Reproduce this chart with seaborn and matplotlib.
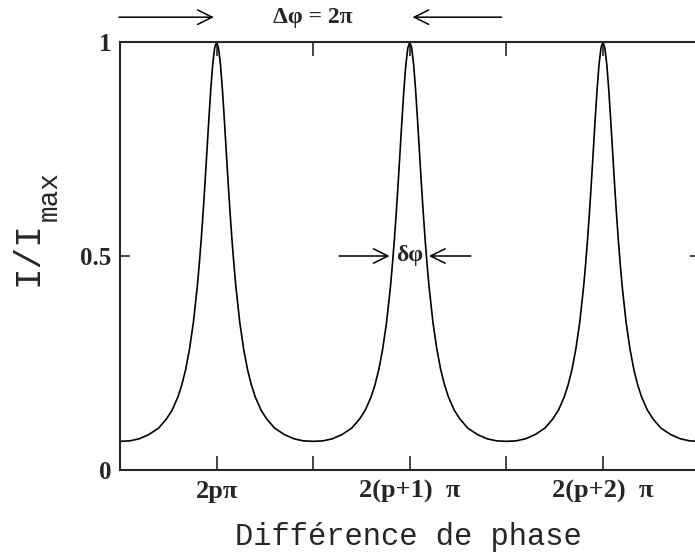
import numpy as np
import matplotlib
matplotlib.use('Agg')
import matplotlib.pyplot as plt
import seaborn as sns

# profil d'un pic : écart au pic en fraction de période, intensité relative
u_half = [0.0, 0.01, 0.02, 0.03, 0.04, 0.05, 0.06, 0.07, 0.08, 0.09, 0.10,
          0.12, 0.14, 0.16, 0.18, 0.20, 0.23, 0.26, 0.30, 0.35, 0.40, 0.45, 0.50]
i_half = [1.000, 0.986, 0.948, 0.890, 0.820, 0.745, 0.670, 0.600, 0.536, 0.479, 0.428,
          0.345, 0.283, 0.235, 0.199, 0.171, 0.140, 0.119, 0.098, 0.083, 0.073, 0.068, 0.067]
# positions des pics (en unités de 2π) et étiquettes
peaks = [0, 1, 2]
peak_labels = ['2pπ', '2(p+1)  π', '2(p+2)  π']
minor_ticks = [0.5, 1.5]
y_ticks = [0, 0.5, 1]
y_labels = ['0', '0.5', '1']

# courbe complète à partir du profil lu
xs, ys = [], []
u = np.array(u_half)
ii = np.array(i_half)
for p in peaks:
    xs.extend(list(p - u[::-1]) + list(p + u[1:]))
    ys.extend(list(ii[::-1]) + list(ii[1:]))

sns.set_style('ticks')
plt.rcParams['font.family'] = ['Liberation Serif', 'DejaVu Serif']

W, H = 695, 556
fig = plt.figure(figsize=(W / 100, H / 100), dpi=100)
ax = fig.add_axes([120 / W, 86 / H, 579.5 / W, 428 / H])

sns.lineplot(x=xs, y=ys, color='black', linewidth=1.2, estimator=None, sort=False, ax=ax)

ax.set_xlim(-0.5, 2.5)
ax.set_ylim(0, 1)
ax.set_xticks(peaks)
ax.set_xticklabels(peak_labels, fontsize=19, fontweight='bold')
ax.set_xticks(minor_ticks, minor=True)
ax.set_yticks(y_ticks)
ax.set_yticklabels(y_labels, fontsize=18, fontweight='bold')
ax.tick_params(axis='x', which='both', direction='in', length=10, width=1.2,
               top=True, pad=7)
ax.tick_params(axis='y', direction='in', length=7, width=1.2, right=True, pad=6)
for s in ax.spines.values():
    s.set_linewidth(1.5)
    s.set_visible(True)

# flèches Δφ = 2π au-dessus du cadre
arr = dict(arrowstyle='->', color='black', lw=1.1, mutation_scale=26)
ax.annotate('', xy=(0, 1.058), xytext=(-0.52, 1.058),
            xycoords=('data', 'axes fraction'), arrowprops=arr, annotation_clip=False)
ax.annotate('', xy=(1, 1.058), xytext=(1.49, 1.058),
            xycoords=('data', 'axes fraction'), arrowprops=arr, annotation_clip=False)
ax.text(0.5, 1.058, 'Δφ = 2π', transform=ax.get_xaxis_transform(), ha='center',
        va='center', fontsize=17, fontweight='bold')

# largeur à mi-hauteur δφ
ax.annotate('', xy=(1 - 0.09, 0.5), xytext=(1 - 0.38, 0.5), arrowprops=arr)
ax.annotate('', xy=(1 + 0.085, 0.5), xytext=(1 + 0.33, 0.5), arrowprops=arr)
ax.text(1.0, 0.5, 'δφ', ha='center', va='center', fontsize=17, fontweight='bold')

fig.text(408 / W, 1 - 537 / H, 'Différence de phase', family='Liberation Mono',
         fontsize=22, ha='center', va='center')
fig.text(28 / W, 1 - 254 / H, 'I/I', family='Liberation Mono',
         fontsize=26, rotation=90, ha='center', va='center')
fig.text(50 / W, 1 - 196 / H, 'max', family='Liberation Mono',
         fontsize=20, rotation=90, ha='center', va='center')

fig.savefig('out.png', dpi=100, facecolor='white')
